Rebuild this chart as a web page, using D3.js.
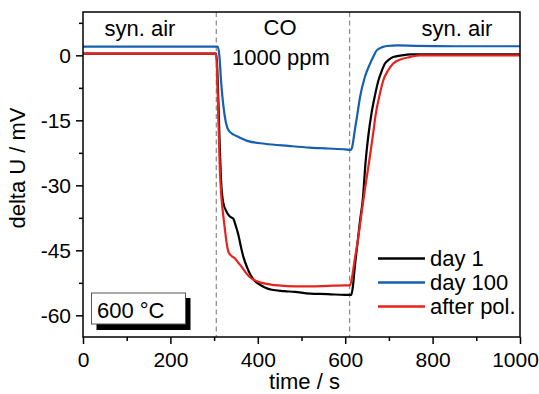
<!DOCTYPE html>
<html>
<head>
<meta charset="utf-8">
<script src="https://cdn.jsdelivr.net/npm/d3@7"></script>
<style>
  html, body { margin: 0; padding: 0; background: #fff; }
  svg { display: block; font-family: "Liberation Sans", Arial, Helvetica, sans-serif; }
</style>
</head>
<body>
<svg id="chart" width="539" height="394"></svg>
<script>
// Sensor response (delta U) to a CO pulse at 600 °C
const seriesNames = ["day 1", "day 100", "after pol."];
const seriesColors = ["#000000", "#1560b0", "#e8231d"];

const timeDay1 = [0, 100, 200, 305, 308, 312, 316, 321, 329, 336, 344, 350, 355, 361, 367, 375, 382, 390, 401, 415, 432, 460, 485, 520, 560, 600, 614, 618, 622, 628, 634, 640, 647, 653, 660, 668, 676, 684, 691, 700, 710, 730, 750, 800, 900, 1000];
const valDay1  = [0.4, 0.4, 0.4, 0.4, -5, -18, -29, -34, -36.2, -37.2, -37.7, -39.5, -41.2, -44, -46.5, -48.8, -50.4, -51.7, -52.7, -53.5, -54.1, -54.4, -54.6, -55.0, -55.1, -55.3, -55.3, -53, -48.8, -43.5, -38.1, -33.5, -24.2, -18.5, -13.5, -9.3, -5.8, -3.5, -1.9, -1.0, -0.4, 0.0, 0.2, 0.2, 0.2, 0.2];

const timeDay100 = [0, 100, 200, 305, 308, 312, 316, 321, 327, 333, 345, 355, 378, 416, 470, 519, 560, 600, 612, 615, 622, 628, 634, 645, 657, 664, 672, 685, 695, 720, 760, 850, 1000];
const valDay100  = [2.0, 2.0, 2.0, 2.0, 2.0, 0.0, -6, -11.5, -15.5, -17.3, -18.3, -18.8, -19.8, -20.4, -20.9, -21.3, -21.5, -21.7, -21.8, -21.5, -17.3, -13.5, -9.6, -5.0, -1.9, -0.4, 1.15, 1.9, 2.15, 2.3, 2.2, 2.1, 2.1];

const timePol = [0, 100, 200, 305, 308, 313, 317, 321, 325, 329, 333, 340, 348, 355, 363, 372, 382, 395, 409, 430, 447, 485, 520, 560, 600, 611, 616, 622, 630, 638, 645, 651, 657, 664, 670, 678, 687, 698, 710, 728, 748, 771, 800, 900, 1000];
const valPol  = [0.4, 0.4, 0.4, 0.4, -8, -26, -33, -37, -40.4, -43.5, -45.4, -46.3, -46.9, -47.8, -48.8, -50.1, -51.2, -52.0, -52.5, -52.9, -53.1, -53.3, -53.3, -53.2, -53.1, -53.1, -51, -47, -42, -36, -31, -27, -23, -18, -13.5, -9.5, -5.8, -3.5, -1.9, -0.9, -0.4, 0.0, 0.0, 0.0, 0.0];

const xMajorTicks = [0, 200, 400, 600, 800, 1000];
const xMinorTicks = [100, 300, 500, 700, 900];
const yMajorTicks = [0, -15, -30, -45, -60];
const yMinorTicks = [7.5, -7.5, -22.5, -37.5, -52.5];
const gasSwitchTimes = [305, 610];

const svg = d3.select("#chart");
const plotL = 83, plotR = 520, plotT = 12, plotB = 337;
const x = d3.scaleLinear().domain([0, 1000]).range([plotL, plotR]);
const y = d3.scaleLinear().domain([-65, 10]).range([plotB, plotT]);
const fontSize = 21;

// axes (ticks outward, left and bottom only)
function styleAxis(g) {
  g.select(".domain").remove();
  g.selectAll(".tick line").attr("stroke", "#000").attr("stroke-width", 1.5);
  g.selectAll(".tick text").attr("fill", "#000").attr("font-size", fontSize).attr("font-family", null);
}
const xAxisG = svg.append("g").attr("transform", `translate(0,${plotB})`)
  .call(d3.axisBottom(x).tickValues(xMajorTicks).tickSize(7).tickPadding(8).tickFormat(d => String(d)))
  .call(styleAxis);
// keep the last tick label inside the page edge
xAxisG.selectAll(".tick text").filter(d => d === 1000).attr("dx", -5);
svg.append("g").attr("transform", `translate(0,${plotB})`)
  .call(d3.axisBottom(x).tickValues(xMinorTicks).tickSize(4).tickFormat(""))
  .call(styleAxis);
svg.append("g").attr("transform", `translate(${plotL},0)`)
  .call(d3.axisLeft(y).tickValues(yMajorTicks).tickSize(7).tickPadding(5).tickFormat(d => String(d)))
  .call(styleAxis);
svg.append("g").attr("transform", `translate(${plotL},0)`)
  .call(d3.axisLeft(y).tickValues(yMinorTicks).tickSize(4).tickFormat(""))
  .call(styleAxis);

// gas switching markers
svg.append("g").selectAll("line").data(gasSwitchTimes).join("line")
  .attr("x1", d => x(d)).attr("x2", d => x(d))
  .attr("y1", plotT).attr("y2", plotB)
  .attr("stroke", "#888").attr("stroke-width", 1.2).attr("stroke-dasharray", "5,3.5");

// data lines
const line = d3.line().x(d => x(d[0])).y(d => y(d[1])).curve(d3.curveMonotoneX);
const series = [
  { t: timeDay1, v: valDay1, c: seriesColors[0] },
  { t: timeDay100, v: valDay100, c: seriesColors[1] },
  { t: timePol, v: valPol, c: seriesColors[2] }
];
svg.append("g").selectAll("path").data(series).join("path")
  .attr("d", s => line(d3.zip(s.t, s.v)))
  .attr("fill", "none").attr("stroke", s => s.c).attr("stroke-width", 2.2)
  .attr("stroke-linejoin", "round");

// frame
svg.append("rect").attr("x", plotL).attr("y", plotT)
  .attr("width", plotR - plotL).attr("height", plotB - plotT)
  .attr("fill", "none").attr("stroke", "#000").attr("stroke-width", 1.5);

// region annotations
const ann = svg.append("g").attr("font-size", 22).attr("fill", "#000").attr("text-anchor", "middle");
ann.append("text").attr("x", 140).attr("y", 36).text("syn. air");
ann.append("text").attr("x", 280).attr("y", 35).text("CO");
ann.append("text").attr("x", 281).attr("y", 65).text("1000 ppm");
ann.append("text").attr("x", 457).attr("y", 36).text("syn. air");

// temperature box with shadow
svg.append("rect").attr("x", 96.5).attr("y", 298).attr("width", 94).attr("height", 32).attr("fill", "#000");
svg.append("rect").attr("x", 91.5).attr("y", 293).attr("width", 94).attr("height", 31)
  .attr("fill", "#fff").attr("stroke", "#555").attr("stroke-width", 1);
svg.append("text").attr("x", 97).attr("y", 318).attr("font-size", 22).text("600 °C");

// legend
const legend = svg.append("g");
const legRows = seriesNames.map((n, i) => ({ n, c: seriesColors[i], yy: 258.5 + i * 24 }));
legend.selectAll("line").data(legRows).join("line")
  .attr("x1", 378).attr("x2", 425).attr("y1", d => d.yy).attr("y2", d => d.yy)
  .attr("stroke", d => d.c).attr("stroke-width", 2.5);
legend.selectAll("text").data(legRows).join("text")
  .attr("x", 430).attr("y", d => d.yy + 7.8).attr("font-size", 22).text(d => d.n);

// axis titles
svg.append("text").attr("x", (plotL + plotR) / 2 + 3).attr("y", 389)
  .attr("text-anchor", "middle").attr("font-size", 22).text("time / s");
svg.append("text").attr("transform", "translate(25,168) rotate(-90)")
  .attr("text-anchor", "middle").attr("font-size", 22).text("delta U / mV");
</script>
</body>
</html>
